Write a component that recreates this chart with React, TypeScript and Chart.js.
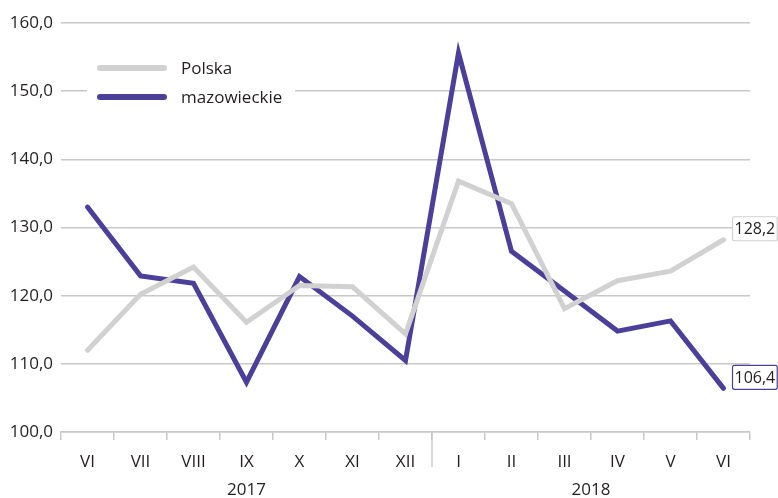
import React, { useEffect, useRef } from "react";
import { Chart, registerables } from "chart.js";

Chart.register(...registerables);

const months = ["VI", "VII", "VIII", "IX", "X", "XI", "XII", "I", "II", "III", "IV", "V", "VI"];
const years = [
  { label: "2017", from: 0, to: 6 },
  { label: "2018", from: 7, to: 12 },
];
const polska = [112.0, 120.2, 124.2, 116.1, 121.5, 121.3, 114.4, 136.8, 133.5, 118.1, 122.2, 123.6, 128.2];
const mazowieckie = [133.0, 122.9, 121.8, 107.3, 122.8, 117.0, 110.5, 155.6, 126.5, 120.7, 114.8, 116.3, 106.4];
const yTicks = [100, 110, 120, 130, 140, 150, 160];

const FONT = "'Open Sans', 'Noto Sans', sans-serif";
const GREY = "#d1d1d1";
const PURPLE = "#4b3f9a";
const GRID = "#c8c8c8";
const TEXT = "#231f20";

const fmt = (v: number) => v.toFixed(1).replace(".", ",");

const overlayPlugin = {
  id: "overlay",
  afterDatasetsDraw(chart: any) {
    const { ctx } = chart;
    // legend with white background
    ctx.save();
    ctx.fillStyle = "#ffffff";
    ctx.fillRect(87, 54, 208, 58);
    const items = chart.data.datasets;
    const ys = [68, 97];
    items.forEach((ds: any, i: number) => {
      ctx.strokeStyle = ds.borderColor;
      ctx.lineWidth = 6;
      ctx.lineCap = "round";
      ctx.beginPath();
      ctx.moveTo(100, ys[i]);
      ctx.lineTo(164, ys[i]);
      ctx.stroke();
      ctx.fillStyle = TEXT;
      ctx.font = `17px ${FONT}`;
      ctx.textBaseline = "middle";
      ctx.textAlign = "left";
      ctx.fillText(ds.label, 181, ys[i] + 1);
    });
    // end value labels
    items.forEach((ds: any, i: number) => {
      const meta = chart.getDatasetMeta(i);
      const last = meta.data[meta.data.length - 1];
      const val = ds.data[ds.data.length - 1];
      const txt = fmt(val);
      ctx.font = `16px ${FONT}`;
      const w = ctx.measureText(txt).width + 4;
      const h = 24;
      const bx = last.x + 9;
      const by = last.y - h + 1;
      ctx.fillStyle = "#ffffff";
      ctx.strokeStyle = ds.borderColor;
      ctx.lineWidth = 1.2;
      ctx.beginPath();
      (ctx as any).roundRect(bx, by, w, h, 2);
      ctx.fill();
      ctx.stroke();
      ctx.fillStyle = TEXT;
      ctx.textAlign = "left";
      ctx.textBaseline = "middle";
      ctx.fillText(txt, bx + 2, by + h / 2 + 1);
    });
    ctx.restore();
  },
  afterDraw(chart: any) {
    const { ctx } = chart;
    const x = chart.scales.x;
    const bottom = chart.chartArea.bottom;
    ctx.save();
    // separator between years
    const sep = (x.getPixelForValue(6) + x.getPixelForValue(7)) / 2;
    ctx.strokeStyle = GRID;
    ctx.lineWidth = 1.5;
    ctx.beginPath();
    ctx.moveTo(sep, bottom);
    ctx.lineTo(sep, bottom + 35);
    ctx.stroke();
    // year labels
    ctx.fillStyle = TEXT;
    ctx.font = `17px ${FONT}`;
    ctx.textAlign = "center";
    ctx.textBaseline = "middle";
    years.forEach((y) => {
      const x0 = x.getPixelForValue(y.from) - x.width / months.length / 2;
      const x1 = x.getPixelForValue(y.to) + x.width / months.length / 2;
      ctx.fillText(y.label, (x0 + x1) / 2, bottom + 58);
    });
    ctx.restore();
  },
};

export default function App() {
  const ref = useRef<HTMLCanvasElement>(null);
  useEffect(() => {
    if (!ref.current) return;
    const chart = new Chart(ref.current, {
      type: "line",
      data: {
        labels: months,
        datasets: [
          {
            label: "Polska",
            data: polska,
            borderColor: GREY,
            backgroundColor: GREY,
            borderWidth: 5,
            pointRadius: 0,
            tension: 0,
            borderCapStyle: "round",
            borderJoinStyle: "miter",
          },
          {
            label: "mazowieckie",
            data: mazowieckie,
            borderColor: PURPLE,
            backgroundColor: PURPLE,
            borderWidth: 5,
            pointRadius: 0,
            tension: 0,
            borderCapStyle: "round",
            borderJoinStyle: "miter",
          },
        ],
      },
      options: {
        responsive: false,
        animation: false,
        layout: { padding: { left: 0, right: 28, top: 23, bottom: 0 } },
        plugins: { legend: { display: false }, tooltip: { enabled: false } },
        scales: {
          x: {
            offset: true,
            grid: {
              display: true,
              offset: true,
              drawOnChartArea: false,
              drawTicks: true,
              tickLength: 8,
              color: GRID,
              lineWidth: 1.5,
            },
            border: { display: true, color: GRID, width: 1.5 },
            ticks: {
              color: TEXT,
              font: { family: FONT, size: 17 },
              padding: 12,
              maxRotation: 0,
              autoSkip: false,
            },
            afterFit: (s: any) => {
              s.height = 66;
            },
          },
          y: {
            min: 100,
            max: 160,
            afterBuildTicks: (s: any) => {
              s.ticks = yTicks.map((v) => ({ value: v }));
            },
            grid: { color: GRID, lineWidth: 1.5, drawTicks: false },
            border: { display: false },
            ticks: {
              color: TEXT,
              font: { family: FONT, size: 17 },
              padding: 8,
              callback: (v: any) => fmt(Number(v)),
            },
            afterFit: (s: any) => {
              s.width = 61;
            },
          },
        },
      },
      plugins: [overlayPlugin],
    });
    return () => chart.destroy();
  }, []);
  return (
    <div style={{ position: "absolute", left: 0, top: 0, width: 778, height: 498, background: "#fff" }}>
      <canvas ref={ref} width={778} height={498} style={{ display: "block" }} />
    </div>
  );
}
